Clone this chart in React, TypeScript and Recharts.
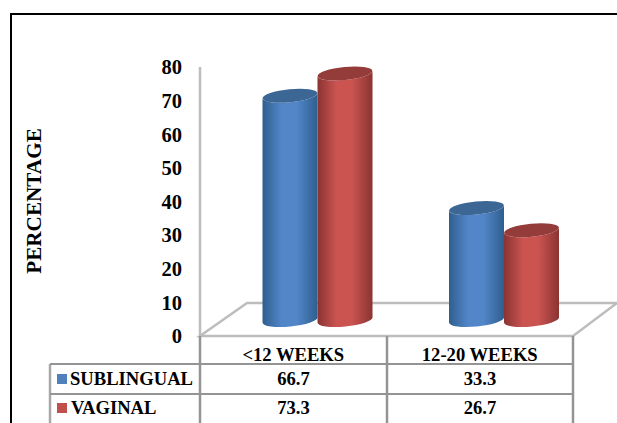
import { Bar, BarChart, XAxis, YAxis } from "recharts";

const categories = ["<12 WEEKS", "12-20 WEEKS"];
const sublingual = [66.7, 33.3];
const vaginal = [73.3, 26.7];
const yTicks = [0, 10, 20, 30, 40, 50, 60, 70, 80];

const chartData = categories.map((name, i) => ({
  name,
  sublingual: sublingual[i],
  vaginal: vaginal[i],
}));

const WIDTH = 617;
const HEIGHT = 423;
const PLOT_LEFT = 200;
const PLOT_RIGHT = 573;
const PLOT_TOP = 67;
const PLOT_BOTTOM = 336;
const COL_MID = 387;
// how far the bars and floor are pushed back in the fake 3D view
const DEPTH_X = 44;
const DEPTH_Y = 33;
const BAR_DX = 24;
const BAR_DY = -16;

const SERIF = '"Liberation Serif", "Times New Roman", serif';
const TABLE_FONT = 18.6;
const FLOOR_GRAY = "#bdbdbd";
const TABLE_GRAY = "#949494";

const tableRows = [
  { label: "SUBLINGUAL", values: sublingual, color: "#4f81bd", baseline: 385, labelX: 70 },
  { label: "VAGINAL", values: vaginal, color: "#c0504d", baseline: 414, labelX: 71 },
];

// Cylinder drawn inside the rectangle the Bar hands over
function cylinder(topColor: string) {
  return function Cylinder(props: any) {
    const { x, y, width, height, fill } = props;
    const left = x + BAR_DX;
    const right = left + width;
    const rx = width / 2;
    const ry = 6.5;
    const tilt = 2.6;
    const top = y + BAR_DY;
    const bottom = y + height + BAR_DY;
    const body = [
      `M${left} ${top + tilt}`,
      `L${left} ${bottom + tilt}`,
      `A${rx} ${ry} -5.5 0 0 ${right} ${bottom - tilt}`,
      `L${right} ${top - tilt}`,
      `A${rx} ${ry} -5.5 0 1 ${left} ${top + tilt}`,
      "Z",
    ].join(" ");
    return (
      <g>
        <path d={body} fill={fill} />
        <ellipse
          cx={left + rx}
          cy={top}
          rx={rx}
          ry={ry}
          fill={topColor}
          transform={`rotate(-5.5 ${left + rx} ${top})`}
        />
      </g>
    );
  };
}

function Gradient({ id, edge, mid }: { id: string; edge: string; mid: string }) {
  return (
    <linearGradient id={id} x1="0" y1="0" x2="1" y2="0">
      <stop offset="0%" stopColor={edge} />
      <stop offset="35%" stopColor={mid} />
      <stop offset="62%" stopColor={mid} />
      <stop offset="100%" stopColor={edge} />
    </linearGradient>
  );
}

function Backdrop() {
  const floor = [
    [PLOT_LEFT, PLOT_BOTTOM],
    [PLOT_RIGHT, PLOT_BOTTOM],
    [PLOT_RIGHT + DEPTH_X, PLOT_BOTTOM - DEPTH_Y],
    [PLOT_LEFT + DEPTH_X + 3, PLOT_BOTTOM - DEPTH_Y],
  ]
    .map((p) => p.join(","))
    .join(" ");
  return (
    <g>
      <polyline points={`11,${HEIGHT} 11,14 ${WIDTH},14`} fill="none" stroke="#000" strokeWidth={2} />
      <polygon points={floor} fill="#fff" stroke={FLOOR_GRAY} strokeWidth={2.5} />
    </g>
  );
}

function DataTable() {
  const columns = [50, PLOT_LEFT, COL_MID, PLOT_RIGHT];
  const centers = [(PLOT_LEFT + COL_MID) / 2, (COL_MID + PLOT_RIGHT) / 2];
  const textProps = {
    fontFamily: SERIF,
    fontWeight: 700,
    fontSize: TABLE_FONT,
    fill: "#000",
  };
  return (
    <g>
      {columns.map((x, i) => (
        <line
          key={x}
          x1={x}
          x2={x}
          y1={i === 0 ? 364 : PLOT_BOTTOM}
          y2={HEIGHT}
          stroke={i === 0 ? "#a8a8a8" : TABLE_GRAY}
          strokeWidth={2.5}
        />
      ))}
      {[364, 394].map((y) => (
        <line key={y} x1={50} x2={PLOT_RIGHT} y1={y} y2={y} stroke={TABLE_GRAY} strokeWidth={2} />
      ))}
      {tableRows.map((row) => (
        <g key={row.label}>
          <rect x={57} y={row.baseline - 11} width={10} height={10} fill={row.color} />
          <text x={row.labelX} y={row.baseline} {...textProps}>
            {row.label}
          </text>
          {row.values.map((v, i) => (
            <text key={i} x={centers[i]} y={row.baseline} textAnchor="middle" {...textProps}>
              {v.toFixed(1)}
            </text>
          ))}
        </g>
      ))}
    </g>
  );
}

export default function App() {
  return (
    <div style={{ position: "absolute", left: 0, top: 0, width: WIDTH, height: HEIGHT, background: "#fff" }}>
      <BarChart
        width={WIDTH}
        height={HEIGHT}
        data={chartData}
        margin={{ top: PLOT_TOP, right: WIDTH - PLOT_RIGHT, bottom: 0, left: 0 }}
        barCategoryGap={38.5}
        barGap={0}
      >
        <defs>
          <Gradient id="cylBlue" edge="#2f5f8f" mid="#5286c9" />
          <Gradient id="cylRed" edge="#8a3432" mid="#cb5451" />
        </defs>
        <Backdrop />
        <DataTable />
        <XAxis
          dataKey="name"
          height={HEIGHT - PLOT_BOTTOM}
          axisLine={false}
          tickLine={false}
          tickMargin={6}
          interval={0}
          tick={{ fontFamily: SERIF, fontWeight: 700, fontSize: TABLE_FONT, fill: "#000" }}
        />
        <YAxis
          width={PLOT_LEFT}
          domain={[0, 80]}
          ticks={yTicks}
          interval={0}
          tickLine={false}
          tickMargin={12}
          axisLine={{ stroke: FLOOR_GRAY, strokeWidth: 2.5 }}
          tick={{ fontFamily: SERIF, fontWeight: 700, fontSize: 20.5, fill: "#000" }}
        />
        <Bar dataKey="sublingual" fill="url(#cylBlue)" shape={cylinder("#3c6795")} isAnimationActive={false} />
        <Bar dataKey="vaginal" fill="url(#cylRed)" shape={cylinder("#943c3a")} isAnimationActive={false} />
        <text
          x={41}
          y={201}
          transform="rotate(-90 41 201)"
          textAnchor="middle"
          fontFamily={SERIF}
          fontWeight={700}
          fontSize={21.2}
          fill="#000"
        >
          PERCENTAGE
        </text>
      </BarChart>
    </div>
  );
}
